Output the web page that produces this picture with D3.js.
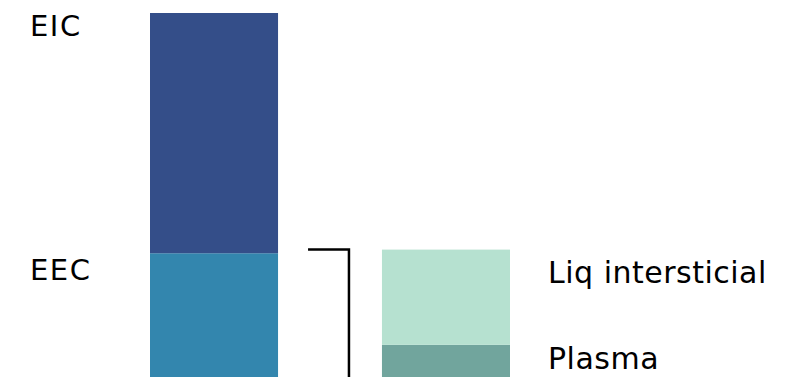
<!DOCTYPE html>
<html>
<head>
<meta charset="utf-8">
<script src="https://cdn.jsdelivr.net/npm/d3@7"></script>
<style>
  html, body { margin: 0; padding: 0; background: #ffffff; }
  svg { display: block; }
  text { font-family: "DejaVu Sans", Verdana, sans-serif; fill: #000; }
  .left-label { font-size: 29px; letter-spacing: 1.5px; }
  .right-label { font-size: 30px; letter-spacing: 0.5px; }
</style>
</head>
<body>
<svg id="chart" width="793" height="377"></svg>
<script>
// Body water compartments (% of body weight)
const columns = ["total", "extracelular"];
const totalLabels = ["EEC", "EIC"];          // bottom to top
const totalValues = [20.4, 39.6];
const extraLabels = ["Plasma", "Liq intersticial"]; // bottom to top
const extraValues = [5.3, 15.7];
const totalColors = ["#3386ae", "#344e89"];
const extraColors = ["#71a59d", "#b6e1d0"];

const width = 793, height = 377;
const svg = d3.select("#chart");

const x = d3.scaleBand()
  .domain(columns)
  .range([150, 510])
  .paddingInner(0.448)
  .paddingOuter(0);

const y = d3.scaleLinear()
  .domain([0, 60])
  .range([height, 13]);

function stackSegments(labels, values, colors) {
  let acc = 0;
  return labels.map((label, i) => {
    const seg = { label, y0: acc, y1: acc + values[i], color: colors[i] };
    acc += values[i];
    return seg;
  });
}

const totalSegs = stackSegments(totalLabels, totalValues, totalColors);
const extraSegs = stackSegments(extraLabels, extraValues, extraColors);

// Left column: intracellular over extracellular
svg.append("g").selectAll("rect")
  .data(totalSegs)
  .join("rect")
  .attr("x", x("total"))
  .attr("width", x.bandwidth())
  .attr("y", d => y(d.y1))
  .attr("height", d => y(d.y0) - y(d.y1))
  .attr("fill", d => d.color);

// Right column: extracellular split into plasma and interstitial fluid
svg.append("g").selectAll("rect")
  .data(extraSegs)
  .join("rect")
  .attr("x", x("extracelular"))
  .attr("width", x.bandwidth())
  .attr("y", d => y(d.y1))
  .attr("height", d => y(d.y0) - y(d.y1))
  .attr("fill", d => d.color);

// Bracket linking the two columns
const extraTotal = d3.sum(extraValues);
const bx0 = x("total") + x.bandwidth() + 30;
const bx1 = x("extracelular") - 33;
const by = y(extraTotal);
svg.append("path")
  .attr("d", `M${bx0},${by}H${bx1}V${height}`)
  .attr("fill", "none")
  .attr("stroke", "#000")
  .attr("stroke-width", 2.5);

// Labels for the left column (placed left of the bar)
const leftOffsets = { "EIC": 23, "EEC": 27 };
svg.append("g").selectAll("text")
  .data(totalSegs)
  .join("text")
  .attr("class", "left-label")
  .attr("x", 30)
  .attr("y", d => y(d.y1) + leftOffsets[d.label])
  .text(d => d.label);

// Labels for the right column (placed right of the bar)
const rightOffsets = { "Plasma": 24, "Liq intersticial": 33 };
svg.append("g").selectAll("text")
  .data(extraSegs)
  .join("text")
  .attr("class", "right-label")
  .attr("x", x("extracelular") + x.bandwidth() + 38)
  .attr("y", d => y(d.y1) + rightOffsets[d.label])
  .text(d => d.label);
</script>
</body>
</html>
